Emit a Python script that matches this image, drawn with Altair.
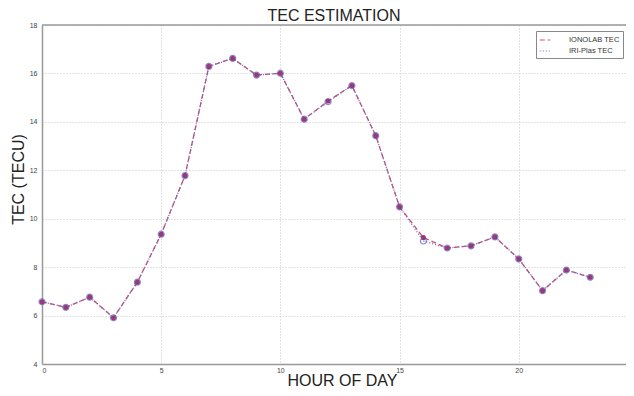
import altair as alt
import pandas as pd

hours = list(range(24))
ionolab = [6.57, 6.34, 6.76, 5.91, 7.38, 9.36, 11.78, 16.29, 16.62, 15.93, 16.01, 14.11,
           14.86, 15.50, 13.43, 10.49, 9.22, 8.79, 8.88, 9.25, 8.34, 7.03, 7.88, 7.58]
iri = [6.57, 6.34, 6.76, 5.91, 7.38, 9.36, 11.78, 16.29, 16.62, 15.93, 16.01, 14.11,
       14.83, 15.50, 13.43, 10.49, 9.08, 8.79, 8.88, 9.25, 8.34, 7.03, 7.88, 7.58]
series_names = ["IONOLAB TEC", "IRI-Plas TEC"]
x_ticks = [0, 5, 10, 15, 20]
y_ticks = [4, 6, 8, 10, 12, 14, 16, 18]

df = pd.DataFrame({
    "hour": hours * 2,
    "value": ionolab + iri,
    "series": [series_names[0]] * len(hours) + [series_names[1]] * len(hours),
})

FONT = "Liberation Sans"

x = alt.X("hour:Q", scale=alt.Scale(domain=[0, 24.5], nice=False),
          axis=alt.Axis(values=x_ticks, title="HOUR OF DAY", titleFontSize=16,
                        titleFontWeight="normal", titleColor="#222",
                        titleBaseline="alphabetic", titleY=21, titleX=300,
                        titleAlign="center",
                        labelFontSize=7, labelColor="#444", labelPadding=2,
                        ticks=False, tickSize=0, grid=True, gridColor="#c4c4c4",
                        gridDash=[1, 2], domainColor="#999", domainWidth=1.5,
                        format="d"))
y = alt.Y("value:Q", scale=alt.Scale(domain=[4, 18], nice=False),
          axis=alt.Axis(values=y_ticks, title="TEC (TECU)", titleFontSize=16,
                        titleFontWeight="normal", titleColor="#222", titlePadding=3,
                        titleY=154,
                        labelFontSize=7, labelColor="#444", labelPadding=5,
                        ticks=False, tickSize=0, grid=True, gridColor="#c4c4c4",
                        gridDash=[1, 2], domainColor="#999", domainWidth=1.5,
                        format="d"))

color = alt.Color("series:N",
                  scale=alt.Scale(domain=series_names, range=["#c8506e", "#6a6ac8"]),
                  legend=alt.Legend(title=None, orient="none", legendX=494, legendY=6,
                                    fillColor="white", strokeColor="#888", padding=3,
                                    labelFontSize=7.5, labelColor="#333", rowPadding=1,
                                    symbolType="stroke", symbolSize=110,
                                    symbolStrokeWidth=1.2, labelOffset=18))
dash = alt.StrokeDash("series:N",
                      scale=alt.Scale(domain=series_names, range=[[5, 3], [1, 2]]),
                      legend=None)

base = alt.Chart(df)

top_frame = alt.Chart(pd.DataFrame({"ymax": [y_ticks[-1]]})).mark_rule(
    color="#999", strokeWidth=1.5
).encode(y=alt.Y("ymax:Q"))

lines = base.mark_line(strokeWidth=1.3).encode(
    x=x, y=y, color=color, strokeDash=dash,
    order=alt.Order("hour:Q"),
)

iri_pts = base.transform_filter(alt.datum.series == series_names[1]).mark_point(
    shape="circle", size=36, filled=False, color="#5a5ac0", strokeWidth=1.2
).encode(x=x, y=y)

iono_pts = base.transform_filter(alt.datum.series == series_names[0]).mark_point(
    shape="circle", size=26, filled=True, color="#963a78", opacity=1
).encode(x=x, y=y)

chart = alt.layer(lines, top_frame, iri_pts, iono_pts).properties(
    width=584, height=339,
    title=alt.TitleParams("TEC ESTIMATION", fontSize=16, fontWeight="normal",
                          color="#222", offset=3, anchor="middle", font=FONT, dy=6),
    padding={"left": 34, "top": 17, "right": 0, "bottom": 24},
    autosize=alt.AutoSizeParams(type="none"),
).configure(font=FONT).configure_view(stroke=None)

chart.save("out.html", embed_options={"renderer": "svg", "actions": False})
